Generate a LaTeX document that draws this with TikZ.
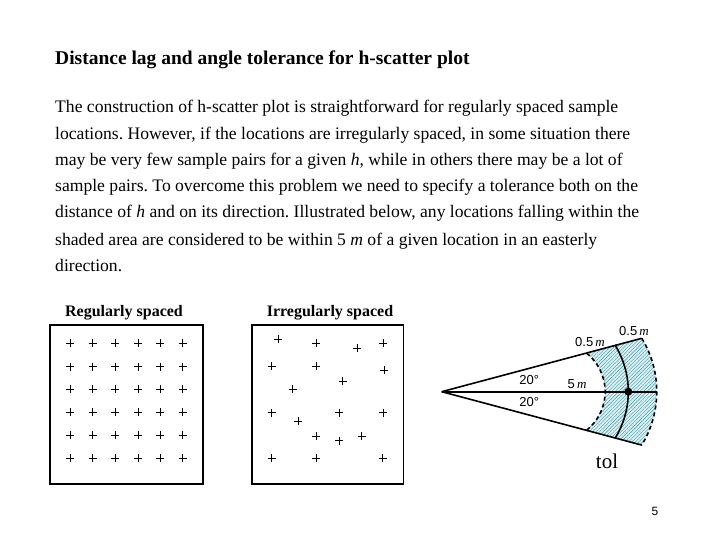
\documentclass[tikz,border=0pt]{standalone}
\usepackage{fontspec}
\setmainfont{Liberation Serif}
\setsansfont{Liberation Sans}
\usetikzlibrary{patterns.meta}
\definecolor{hatchbg}{RGB}{214,240,244}
\definecolor{hatchln}{RGB}{70,150,160}
\frenchspacing
\begin{document}
\begin{tikzpicture}[x=1pt,y=-1pt,
  bodyline/.style={anchor=base west,inner sep=0pt,font=\fontsize{17.6}{20}\selectfont},
  titletxt/.style={anchor=base west,inner sep=0pt,font=\fontsize{19.5}{22}\selectfont\bfseries},
  boxlabel/.style={anchor=base,inner sep=0pt,font=\fontsize{16}{18}\selectfont\bfseries},
  plotbox/.style={draw,line width=1.6pt},
  pl/.style={line width=0.7pt},
  ray/.style={line width=1.6pt},
  dasharc/.style={line width=1.6pt,dash pattern=on 4pt off 3pt},
  lab/.style={inner sep=0pt,font=\fontsize{13}{15}\selectfont},
  hatched/.style={fill=hatchbg,postaction={pattern={Lines[angle=45,distance=2.5pt,line width=0.4pt]},pattern color=hatchln}}
]
\useasboundingbox (0,0) rectangle (720,540);

\node[titletxt] (title) at (55,65) {Distance lag and angle tolerance for h-scatter plot};
\node[bodyline] (l1) at (55,113) {The construction of h-scatter plot is straightforward for regularly spaced sample};
\node[bodyline] (l2) at (55,140) {locations. However, if the locations are irregularly spaced, in some situation there};
\node[bodyline] (l3) at (55,166) {may be very few sample pairs for a given \textit{h}, while in others there may be a lot of};
\node[bodyline] (l4) at (55,192) {sample pairs. To overcome this problem we need to specify a tolerance both on the};
\node[bodyline] (l5) at (55,218) {distance of \textit{h} and on its direction. Illustrated below, any locations falling within the};
\node[bodyline] (l6) at (55,245) {shaded area are considered to be within 5 \textit{m} of a given location in an easterly};
\node[bodyline] (l7) at (55,271) {direction.};

% boxes
\node[boxlabel] (lreg) at (124,316) {Regularly spaced};
\node[boxlabel] (lirr) at (330,316) {Irregularly spaced};
\draw[plotbox] (50,325) rectangle (202.7,484);
\draw[plotbox] (251.7,325) rectangle (403.3,484);

\foreach \x in {70,92.7,115,138.3,160,182.7}
  \foreach \y in {343.3,366.7,389.3,412.3,435,458.3}
    \draw[pl] (\x-4,\y) -- (\x+4,\y) (\x,\y-4) -- (\x,\y+4);

\foreach \x/\y in {278.3/339.3,316/343.3,357.3/348.3,383.3/343.3,271.7/366,316/366,384.3/370,342.7/381,292.7/389.3,271.7/412.7,298.3/421,339.3/412.7,383.3/412.7,316/436,339.3/440.7,361.7/436,271.7/458.3,316/458.3,382.7/458.3}
  \draw[pl] (\x-4,\y) -- (\x+4,\y) (\x,\y-4) -- (\x,\y+4);

% sector
\coordinate (apex) at (441.7,391.7);
\coordinate (ci) at (555.8,391.7);
\coordinate (cs) at (539.7,391.7);
\coordinate (co) at (554,391.7);
\coordinate (itop) at (586.7,353.3);
\coordinate (ibot) at (586.7,430.1);
\coordinate (otop) at (641.8,338.3);
\coordinate (obot) at (641.8,445.1);
\coordinate (omid) at (656.7,391.7);
\coordinate (dot) at (628.3,391.7);

\fill[hatched] (itop) -- (otop) arc[start angle=31.3,end angle=-31.3,radius=102.7pt] -- (ibot) arc[start angle=-51.2,end angle=51.2,radius=49.3pt] -- cycle;

\draw[dasharc] (itop) arc[start angle=51.2,end angle=-51.2,radius=49.3pt];
\draw[dasharc] (otop) arc[start angle=31.3,end angle=-31.3,radius=102.7pt];
\draw[ray] (cs) ++(31.8:88.6pt) arc[start angle=31.8,end angle=-31.8,radius=88.6pt];

\draw[ray] (apex) -- (otop);
\draw[ray] (apex) -- (obot);
\draw[ray] (apex) -- (omid);
\fill (dot) circle[radius=4pt];

\node[lab] (a1) at (529.3,380) {\sffamily 20°};
\node[lab] (a2) at (529.3,402) {\sffamily 20°};
\node[lab] (d5) at (577,384) {\sffamily 5\,\rmfamily\itshape m};
\node[lab] (t1) at (590,341.7) {\sffamily 0.5\,\rmfamily\itshape m};
\node[lab] (t2) at (634,331) {\sffamily 0.5\,\rmfamily\itshape m};
\node[inner sep=0pt,font=\fontsize{21}{23}\selectfont] (tol) at (607,461) {tol};
\node[inner sep=0pt,font=\fontsize{12}{14}\selectfont\sffamily] (pg) at (655,511) {5};
\end{tikzpicture}
\end{document}
